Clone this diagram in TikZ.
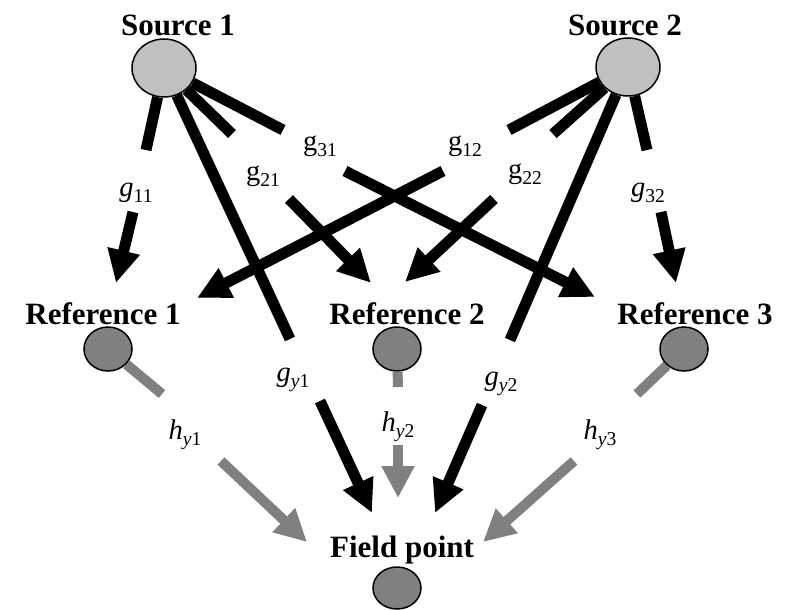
\documentclass[tikz,border=0pt]{standalone}
\usepackage{fontspec}
\setmainfont{Liberation Serif}
\usetikzlibrary{shapes.geometric,arrows.meta}
\definecolor{midgray}{RGB}{128,128,128}
\definecolor{lightgray}{RGB}{192,192,192}
\newcommand{\lowsub}[1]{\raisebox{-0.22em}{\fontsize{19.6}{20}\selectfont #1}}
\tikzset{
  title/.style={anchor=base, inner sep=0pt, font=\fontsize{31}{36}\selectfont\bfseries},
  glabel/.style={anchor=base, inner sep=0pt, font=\fontsize{28.5}{32}\selectfont},
  srcnode/.style={ellipse, draw=black, line width=1.5pt, fill=lightgray, minimum width=64pt, minimum height=58pt, inner sep=0pt},
  refnode/.style={ellipse, draw=black, line width=1.5pt, fill=midgray, minimum width=48pt, minimum height=44pt, inner sep=0pt},
  blackline/.style={line width=11pt, draw=black},
  grayline/.style={line width=10pt, draw=midgray},
  blackarrow/.style={line width=11pt, draw=black, -{Triangle[length=33pt,width=31pt]}},
  grayarrow/.style={line width=10pt, draw=midgray, -{Triangle[length=32pt,width=31pt]}},
}
\begin{document}
\begin{tikzpicture}[x=1pt,y=-1pt]
\useasboundingbox (0,0) rectangle (790,610);
% nodes
\node[srcnode] (s1) at (164,68) {};
\node[srcnode] (s2) at (628,67) {};
\node[refnode] (r1) at (108,349) {};
\node[refnode] (r2) at (397,349) {};
\node[refnode] (r3) at (684,349) {};
\node[refnode, minimum height=42pt] (fp) at (397,588) {};
% titles
\node[title] (s1t) at (178,36) {Source 1};
\node[title] (s2t) at (625,36) {Source 2};
\node[title] (r1t) at (103,324) {Reference 1};
\node[title] (r2t) at (407,324) {Reference 2};
\node[title] (r3t) at (695,324) {Reference 3};
\node[title] (fpt) at (402,557) {Field point};
% labels
\node[glabel] (l11) at (136,196) {\textit{g}\lowsub{11}};
\node[glabel] (l21) at (263,180) {g\lowsub{21}};
\node[glabel] (l31) at (320,150) {g\lowsub{31}};
\node[glabel] (l12) at (465,150) {g\lowsub{12}};
\node[glabel] (l22) at (525,178) {g\lowsub{22}};
\node[glabel] (l32) at (648,196) {\textit{g}\lowsub{32}};
\node[glabel] (ly1) at (293,381) {\textit{g}\lowsub{\textit{y}1}};
\node[glabel] (ly2) at (501,385) {\textit{g}\lowsub{\textit{y}2}};
\node[glabel] (h1) at (185,439) {\textit{h}\lowsub{\textit{y}1}};
\node[glabel] (h2) at (398,431) {\textit{h}\lowsub{\textit{y}2}};
\node[glabel] (h3) at (600,439) {\textit{h}\lowsub{\textit{y}3}};
% segment end coordinates
\coordinate (e11) at (146,150);
\coordinate (e21) at (232,134);
\coordinate (e31) at (283,130);
\coordinate (e12) at (509,130);
\coordinate (e22) at (553,134);
\coordinate (e32) at (647,150);
\coordinate (ey1) at (290,339);
\coordinate (ey2) at (510,340);
\coordinate (eh1) at (162,394);
\coordinate (eh2) at (398,387);
\coordinate (eh3) at (637,394);
% arrow start coordinates
\coordinate (a11) at (133,212);
\coordinate (a21) at (289,199);
\coordinate (a31) at (345,171);
\coordinate (a12) at (443,171);
\coordinate (a22) at (494,199);
\coordinate (a32) at (661,212);
\coordinate (ay1) at (320,401);
\coordinate (ay2) at (482,405);
\coordinate (ah1) at (221,461);
\coordinate (ah2) at (398,445);
\coordinate (ah3) at (574,461);
% arrow tips
\coordinate (t11) at (116,283);
\coordinate (t21) at (371,283);
\coordinate (t31) at (595,297);
\coordinate (t12) at (197,298);
\coordinate (t22) at (405,282);
\coordinate (t32) at (676,283);
\coordinate (ty1) at (372,513);
\coordinate (ty2) at (435,513);
\coordinate (th1) at (307,542);
\coordinate (th2) at (398,498);
\coordinate (th3) at (483,542);
% lines from sources
\draw[blackline] (s1) -- (e11);
\draw[blackline] (s1) -- (e21);
\draw[blackline] (s1) -- (e31);
\draw[blackline] (s1) -- (ey1);
\draw[blackline] (s2) -- (e12);
\draw[blackline] (s2) -- (e22);
\draw[blackline] (s2) -- (e32);
\draw[blackline] (s2) -- (ey2);
% gray lines from references
\draw[grayline] (r1) -- (eh1);
\draw[grayline] (r2) -- (eh2);
\draw[grayline] (r3) -- (eh3);
% arrows
\draw[blackarrow] (a11) -- (t11);
\draw[blackarrow] (a21) -- (t21);
\draw[blackarrow] (a31) -- (t31);
\draw[blackarrow] (a12) -- (t12);
\draw[blackarrow] (a22) -- (t22);
\draw[blackarrow] (a32) -- (t32);
\draw[blackarrow] (ay1) -- (ty1);
\draw[blackarrow] (ay2) -- (ty2);
\draw[grayarrow] (ah1) -- (th1);
\draw[grayarrow] (ah2) -- (th2);
\draw[grayarrow] (ah3) -- (th3);
\end{tikzpicture}
\end{document}
